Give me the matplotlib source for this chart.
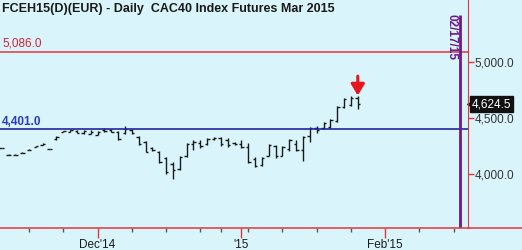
import matplotlib
matplotlib.use('Agg')
import matplotlib.pyplot as plt
from matplotlib.lines import Line2D
import numpy as np
import pandas as pd

plt.rcParams['font.family'] = ['Liberation Sans', 'DejaVu Sans']

# trading days (Euronext), holidays removed
days = pd.bdate_range('2014-11-11', '2015-02-18')
days = days.drop(pd.to_datetime(['2014-12-25', '2014-12-26', '2015-01-01']))

highs = [4234, 4175, 4175, 4192, 4219, 4249, 4276, 4225, 4335, 4385,
         4395, 4389, 4389, 4389, 4383, 4410, 4401, 4380, 4425, 4401,
         4335, 4291, 4240, 4201, 4151, 4103, 4163, 4276, 4305, 4299,
         4320, 4329, 4329, 4320, 4282, 4299, 4276, 4151, 4151, 4270,
         4261, 4252, 4311, 4305, 4341, 4419, 4430, 4460, 4490, 4609,
         4678, 4692, 4692]
lows = [4228, 4169, 4169, 4186, 4213, 4243, 4258, 4219, 4305, 4375,
        4371, 4365, 4359, 4353, 4347, 4371, 4371, 4305, 4359, 4359,
        4255, 4192, 4201, 4097, 4002, 3957, 4038, 4151, 4210, 4231,
        4261, 4305, 4252, 4240, 4258, 4231, 4097, 4061, 4073, 4157,
        4142, 4157, 4201, 4201, 4112, 4282, 4365, 4401, 4410, 4460,
        4588, 4603, 4579]
opens = [4230, 4174, 4170, 4188, 4215, 4245, 4262, 4224, 4310, 4378,
         4375, 4385, 4362, 4358, 4350, 4395, 4390, 4375, 4370, 4395,
         4330, 4285, 4230, 4195, 4140, 4090, 4045, 4160, 4270, 4280,
         4270, 4310, 4325, 4300, 4275, 4265, 4240, 4130, 4080, 4160,
         4250, 4165, 4220, 4270, 4210, 4340, 4410, 4410, 4420, 4470,
         4600, 4615, 4680]
closes = [4232, 4171, 4173, 4190, 4217, 4247, 4270, 4221, 4330, 4383,
          4390, 4370, 4380, 4372, 4378, 4380, 4375, 4310, 4400, 4365,
          4265, 4200, 4215, 4110, 4020, 4040, 4150, 4265, 4290, 4250,
          4310, 4325, 4270, 4260, 4265, 4240, 4110, 4070, 4140, 4260,
          4160, 4240, 4300, 4210, 4330, 4410, 4395, 4455, 4485, 4600,
          4670, 4680, 4624.5]

resistance = 5086.0
support = 4401.0
last_price = 4624.5
marker_day = '2015-02-17'
y_ticks = [4000, 4500, 5000]
x_major = {'2014-12-01': "Dec'14", '2015-01-02': "'15", '2015-02-02': "Feb'15"}
x_minor = ['2014-11-17', '2014-11-24', '2014-12-08', '2014-12-15', '2014-12-22',
           '2014-12-29', '2015-01-05', '2015-01-12', '2015-01-19', '2015-01-26',
           '2015-02-09', '2015-02-16']

bg = '#d9f5fb'
red = '#e0363c'
blue = '#2424a0'
purple = '#6b1a8c'

fig = plt.figure(figsize=(5.22, 2.5), dpi=100, facecolor=bg)
ax = fig.add_axes([0, 0.088, 468 / 522, 0.912], facecolor=bg)

def idx(d):
    return days.get_loc(pd.Timestamp(d))

x = np.arange(len(highs))
ax.vlines(x, lows, highs, color='#1a1a1a', lw=1.0)
ax.hlines(opens, x - 0.35, x, color='#1a1a1a', lw=1.0)
ax.hlines(closes, x, x + 0.35, color='#1a1a1a', lw=1.0)

ax.axhline(resistance, color=red, lw=1.1)
ax.axhline(support, color=blue, lw=1.2)
ax.text(0.05, resistance + 25, '5,086.0', color='#d42030', fontsize=8.5,
        ha='left', va='bottom')
ax.text(0.05, support + 12, '4,401.0', color='#2e3bc0', fontsize=8.5,
        fontweight='bold', ha='left', va='bottom')

m = idx(marker_day)
ax.vlines(m, 3400, 5420, color=purple, lw=2)
ax.text(m - 0.45, 5425, '02/17/15', color=purple, fontsize=8.5, fontweight='bold',
        rotation=270, ha='right', va='top')

# arrow over the last bar
ax.annotate('', xy=(x[-1], highs[-1] + 8), xytext=(0, 14), textcoords='offset points',
            arrowprops=dict(arrowstyle='-|>,head_width=0.27,head_length=0.45',
                            mutation_scale=15, shrinkA=0, shrinkB=0,
                            color='#e8161c', lw=2.2))

ax.text(0.004, 0.985, 'FCEH15(D)(EUR) - Daily  CAC40 Index Futures Mar 2015',
        transform=ax.transAxes, fontsize=9, fontweight='bold', color='#1a1a1a',
        ha='left', va='top')

ax.set_xlim(-0.25, 68.1)
ax.set_ylim(3518, 5553)

for s in ['top', 'left']:
    ax.spines[s].set_visible(False)
ax.spines['right'].set_color(red)
ax.spines['bottom'].set_visible(False)

ax.yaxis.tick_right()
ax.set_yticks(y_ticks)
ax.set_yticklabels(['{:,.1f}'.format(v) for v in y_ticks], fontsize=8.5, color='#333333')
ax.tick_params(axis='y', colors=red, labelcolor='#333333', length=4, width=1, pad=1)

ax.set_xticks([idx(d) for d in x_major])
ax.set_xticklabels(list(x_major.values()), fontsize=8.5, color='#1a1a1a')
ax.set_xticks([idx(d) for d in x_minor], minor=True)
ax.tick_params(axis='x', which='major', colors=red, labelcolor='#1a1a1a', length=7, width=1, pad=1)
ax.tick_params(axis='x', which='minor', colors='#555555', length=3, width=1)

# bottom rule across the full width
fig.add_artist(Line2D([0, 1], [0.088, 0.088], color=red, lw=1.1, transform=fig.transFigure))

# last price tag
ax.plot([1.0 + 2 / 468], [last_price], marker='<', ms=5, color='#111111', clip_on=False,
        transform=ax.get_yaxis_transform(), zorder=2.5)
ax.annotate('4,624.5', xy=(1.0, last_price), xycoords=('axes fraction', 'data'),
            xytext=(3, 0), textcoords='offset points', fontsize=8.5, color='white',
            ha='left', va='center', annotation_clip=False, zorder=6,
            bbox=dict(boxstyle='square,pad=0.15', fc='#111111', ec='#111111'))

fig.savefig('out.png', dpi=100, facecolor=bg)
